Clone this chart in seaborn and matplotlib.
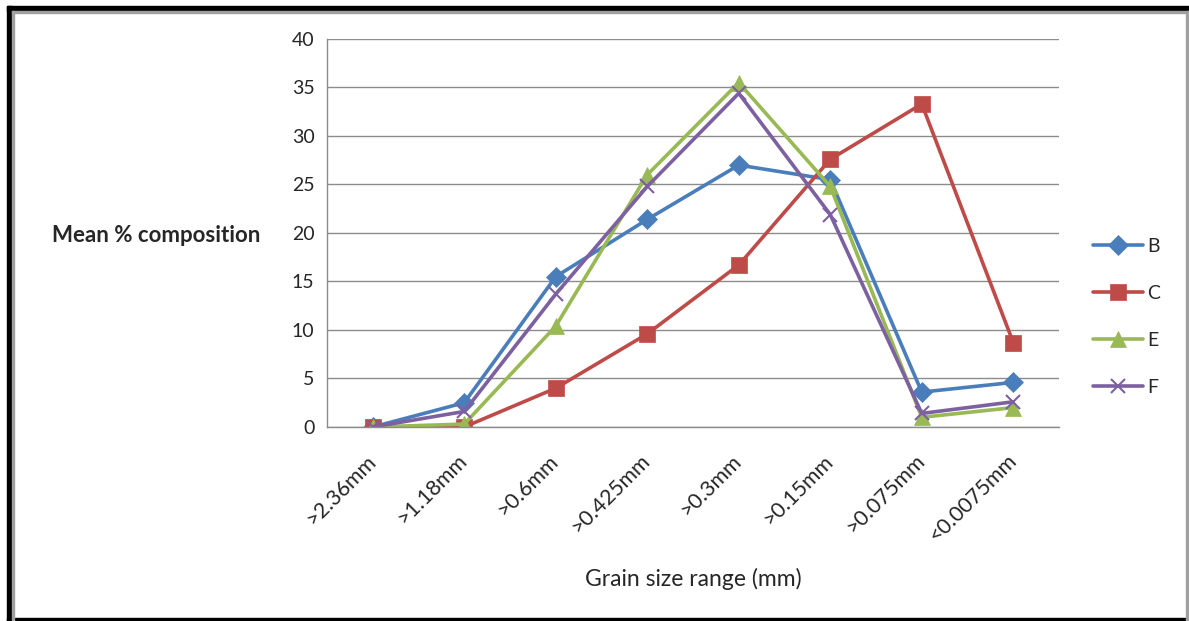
import numpy as np
import pandas as pd
import matplotlib
matplotlib.use("Agg")
import matplotlib.pyplot as plt
import seaborn as sns
from matplotlib.patches import Rectangle

sizes = [">2.36mm", ">1.18mm", ">0.6mm", ">0.425mm", ">0.3mm", ">0.15mm", ">0.075mm", "<0.0075mm"]
b_vals = [0.0, 2.5, 15.5, 21.4, 27.0, 25.5, 3.6, 4.6]
c_vals = [0.0, 0.0, 4.0, 9.6, 16.7, 27.6, 33.3, 8.7]
e_vals = [0.0, 0.3, 10.4, 26.0, 35.5, 24.8, 1.0, 2.0]
f_vals = [0.0, 1.6, 13.7, 24.8, 34.4, 21.9, 1.4, 2.6]
series = ["B", "C", "E", "F"]

colors = {"B": "#4A7EBB", "C": "#BE4B48", "E": "#98B954", "F": "#7D60A0"}
markers = {"B": "D", "C": "s", "E": "^", "F": "x"}
msizes = {"B": 10, "C": 12, "E": 12, "F": 10}

rows = []
for name, vals in zip(series, [b_vals, c_vals, e_vals, f_vals]):
    for i, v in enumerate(vals):
        rows.append({"pos": i, "size": sizes[i], "value": v, "sample": name})
df = pd.DataFrame(rows)

sns.set_style("white")
plt.rcParams["font.family"] = ["Lato", "DejaVu Sans"]
grey = "#8c8c8c"

fig = plt.figure(figsize=(11.89, 6.21), dpi=100)
ax = fig.add_axes([0.275, 0.3124, 0.6157, 0.6248])

for name in series:
    sub = df[df["sample"] == name]
    sns.lineplot(data=sub, x="pos", y="value", ax=ax, color=colors[name], lw=2.6,
                 marker=markers[name], markersize=msizes[name], markeredgecolor=colors[name],
                 markeredgewidth=1.5 if name == "F" else 0.5, label=name, sort=False)

ax.set_xlim(-0.5, len(sizes) - 0.5)
ax.set_ylim(0, 40)
ax.set_yticks(np.arange(0, 41, 5))
ax.yaxis.grid(True, color=grey, lw=1)
ax.set_axisbelow(True)
ax.set_xticks(range(len(sizes)))
ax.set_xticklabels(sizes, rotation=45, ha="right", va="center", rotation_mode="anchor", fontsize=15.5)
ax.set_xticks(np.arange(-0.5, len(sizes), 1), minor=True)
ax.tick_params(axis="x", which="major", length=0, pad=22)
ax.tick_params(axis="x", which="minor", length=6, color=grey, direction="out")
ax.tick_params(axis="y", length=10, color=grey, direction="inout", labelsize=14, pad=4)
for s in ["top", "right"]:
    ax.spines[s].set_visible(False)
for s in ["left", "bottom"]:
    ax.spines[s].set_color(grey)
    ax.spines[s].set_linewidth(1)

ax.set_xlabel("Grain size range (mm)", fontsize=16.5)
ax.xaxis.set_label_coords(0.5, -0.362)
ax.set_ylabel("")
fig.text(52 / 1189, 1 - 235 / 621, "Mean % composition", fontsize=16, fontweight="bold",
         ha="left", va="center")

handles, labels = ax.get_legend_handles_labels()
ax.legend(handles, labels, loc="center left", bbox_to_anchor=(1.046, 0.284), frameon=False,
          fontsize=14, handlelength=2.6, labelspacing=1.55, handletextpad=0.2,
          borderpad=0, borderaxespad=0)

# outer frame like the pasted picture
fig.patches.append(Rectangle((7 / 1189, 0), 5 / 1189, 1 - 6 / 621, transform=fig.transFigure,
                             color="black", zorder=10))
fig.patches.append(Rectangle((7 / 1189, 1 - 11 / 621), 1 - 7 / 1189, 5 / 621, transform=fig.transFigure,
                             color="black", zorder=10))
fig.patches.append(Rectangle((7 / 1189, 0), 1 - 7 / 1189, 3 / 621, transform=fig.transFigure,
                             color="black", zorder=10))
fig.patches.append(Rectangle((12 / 1189, 0), 2 / 1189, 1 - 11 / 621, transform=fig.transFigure,
                             color="#a0a0a0", zorder=10))
fig.patches.append(Rectangle((12 / 1189, 1 - 13 / 621), 1 - 12 / 1189, 2 / 621, transform=fig.transFigure,
                             color="#a0a0a0", zorder=10))
fig.patches.append(Rectangle((1 - 3 / 1189, 0), 2 / 1189, 1 - 11 / 621, transform=fig.transFigure,
                             color="#a0a0a0", zorder=10))

fig.savefig("out.png", dpi=100)
